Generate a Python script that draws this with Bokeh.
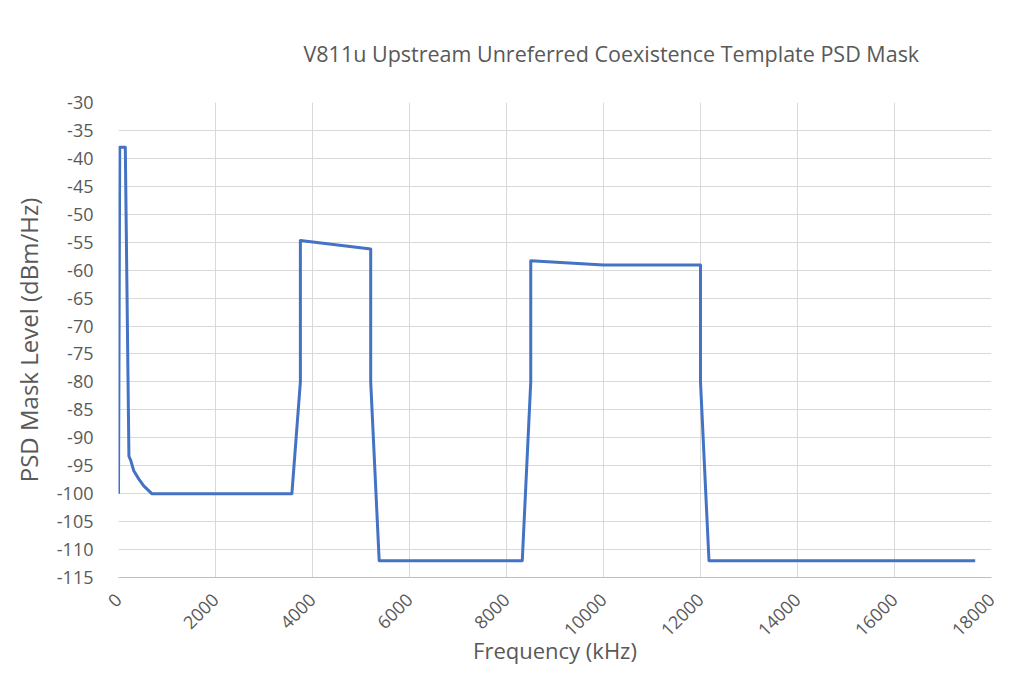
import math
from bokeh.plotting import figure
from bokeh.models import Range1d, FixedTicker
from bokeh.embed import file_html
from bokeh.resources import INLINE

# Data (frequency in kHz, PSD in dBm/Hz)
freq_khz = [0, 25, 140, 215, 250, 315, 420, 520, 686, 3575, 3750, 3750, 5200, 5200,
            5375, 8325, 8500, 8500, 10000, 12000, 12000, 12175, 17664]
psd_dbm = [-100, -38, -38, -93.3, -94.0, -95.9, -97.4, -98.6, -100, -100, -80, -54.7, -56.2, -80,
           -112, -112, -80, -58.3, -59.1, -59.1, -80, -112, -112]

x_ticks = list(range(0, 18001, 2000))
y_ticks = list(range(-115, -29, 5))
y_tick_labels = {t: "-%d" % abs(t) for t in y_ticks}

TITLE = "V811u Upstream Unreferred Coexistence Template PSD Mask"
X_LABEL = "Frequency (kHz)"
Y_LABEL = "PSD Mask Level (dBm/Hz)"

FONT = "Open Sans"
TEXT_COLOR = "#595959"

p = figure(width=1010, height=668, output_backend="svg", toolbar_location=None,
           x_range=Range1d(0, 18000), y_range=Range1d(-115, -30),
           title=TITLE)
p.min_border_left = 118
p.min_border_right = 19
p.min_border_top = 102
p.min_border_bottom = 91

p.title.align = "left"
p.title.offset = 185
p.title.standoff = 70
p.title.text_font = FONT
p.title.text_font_size = "21.5px"
p.title.text_font_style = "normal"
p.title.text_color = TEXT_COLOR

p.line(freq_khz, psd_dbm, line_color="#4472C4", line_width=3, line_join="round")

p.xaxis.ticker = FixedTicker(ticks=x_ticks)
p.yaxis.ticker = FixedTicker(ticks=y_ticks)
p.yaxis.major_label_overrides = y_tick_labels
p.xaxis.major_label_orientation = math.pi / 4

for ax in (p.xaxis, p.yaxis):
    ax.major_tick_line_color = None
    ax.minor_tick_line_color = None
    ax.major_label_text_font = FONT
    ax.major_label_text_font_size = "18px"
    ax.major_label_text_color = TEXT_COLOR
    ax.axis_label_text_font = FONT
    ax.axis_label_text_font_style = "normal"
    ax.axis_label_text_color = TEXT_COLOR
p.xaxis.axis_line_color = "#bfbfbf"
p.yaxis.axis_line_color = None

p.yaxis.axis_label = Y_LABEL
p.xaxis.axis_label = X_LABEL
p.yaxis.axis_label_text_font_size = "24px"
p.xaxis.axis_label_text_font_size = "22px"
p.xaxis.major_label_standoff = 13
p.yaxis.major_label_standoff = 19
p.yaxis.axis_label_standoff = 9
p.xaxis.axis_label_standoff = -10

p.xgrid.grid_line_color = "#d9d9d9"
p.ygrid.grid_line_color = "#d9d9d9"
p.xgrid.grid_line_width = 1
p.ygrid.grid_line_width = 1
p.outline_line_color = None
p.background_fill_color = "white"
p.border_fill_color = "white"

open("out.html", "w").write(file_html(p, INLINE))
